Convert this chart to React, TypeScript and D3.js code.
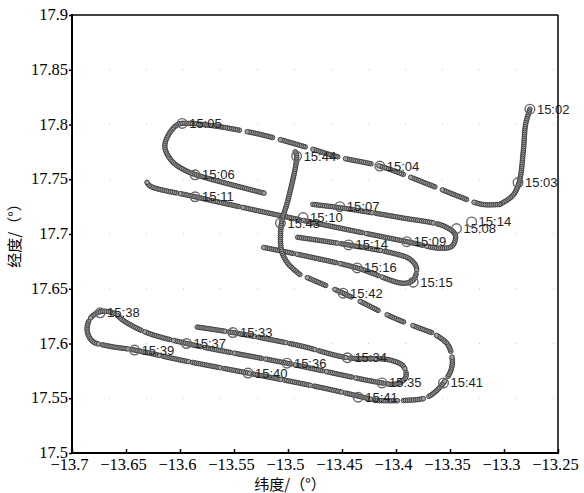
import React, { useEffect, useRef } from 'react'
import * as d3 from 'd3'

const xTicks = [-13.7, -13.65, -13.6, -13.55, -13.5, -13.45, -13.4, -13.35, -13.3, -13.25]
const yTicks = [17.5, 17.55, 17.6, 17.65, 17.7, 17.75, 17.8, 17.85, 17.9]

// flight track, pieces in time order [lon, lat]
const seg1 = [[-13.276, 17.814], [-13.280, 17.800], [-13.282, 17.777], [-13.286, 17.747], [-13.292, 17.735], [-13.304, 17.727]]
const seg2 = [[-13.304, 17.727], [-13.320, 17.727], [-13.341, 17.734], [-13.369, 17.745], [-13.415, 17.762], [-13.452, 17.770], [-13.489, 17.781], [-13.526, 17.791], [-13.563, 17.798]]
const seg3 = [[-13.563, 17.798], [-13.591, 17.801], [-13.602, 17.800], [-13.611, 17.790], [-13.614, 17.779], [-13.607, 17.766], [-13.595, 17.758], [-13.585, 17.754], [-13.521, 17.737]]
const seg4 = [[-13.477, 17.727], [-13.452, 17.724], [-13.396, 17.715], [-13.355, 17.707], [-13.345, 17.699], [-13.348, 17.689], [-13.359, 17.687], [-13.390, 17.693], [-13.489, 17.713], [-13.586, 17.734], [-13.628, 17.744], [-13.631, 17.748]]
const seg5 = [[-13.491, 17.697], [-13.444, 17.690], [-13.401, 17.682], [-13.387, 17.677], [-13.381, 17.669], [-13.384, 17.658], [-13.393, 17.655], [-13.436, 17.669], [-13.489, 17.681], [-13.524, 17.688]]
const seg6 = [[-13.584, 17.615], [-13.551, 17.610], [-13.489, 17.598], [-13.445, 17.587], [-13.406, 17.585], [-13.393, 17.579], [-13.391, 17.569], [-13.400, 17.563], [-13.413, 17.564], [-13.501, 17.582], [-13.594, 17.600], [-13.631, 17.610], [-13.651, 17.620], [-13.662, 17.628], [-13.674, 17.629], [-13.683, 17.623], [-13.686, 17.612], [-13.681, 17.602], [-13.668, 17.598], [-13.642, 17.594], [-13.600, 17.585], [-13.537, 17.573], [-13.461, 17.558], [-13.419, 17.548]]
const seg7 = [[-13.419, 17.548], [-13.392, 17.548], [-13.371, 17.551], [-13.356, 17.564], [-13.348, 17.580], [-13.352, 17.599], [-13.367, 17.610]]
const seg8 = [[-13.367, 17.610], [-13.401, 17.623], [-13.449, 17.646], [-13.489, 17.663]]
const seg9 = [[-13.489, 17.663], [-13.500, 17.673], [-13.506, 17.685], [-13.506, 17.710], [-13.500, 17.731], [-13.492, 17.772], [-13.494, 17.776]]
const segments = [seg1, seg2, seg3, seg4, seg5, seg6, seg7, seg8, seg9]

// time stamps along the track
const stampText = ['15:02', '15:03', '15:04', '15:05', '15:06', '15:07', '15:08', '15:14', '15:09', '15:43', '15:10', '15:11',
  '15:14', '15:15', '15:16', '15:33', '15:34', '15:35', '15:36', '15:37', '15:38', '15:39', '15:40', '15:41', '15:41', '15:42', '15:44']
const stampLon = [-13.276, -13.287, -13.415, -13.598, -13.586, -13.452, -13.344, -13.330, -13.390, -13.507, -13.486, -13.586,
  -13.444, -13.384, -13.436, -13.551, -13.445, -13.413, -13.501, -13.594, -13.674, -13.642, -13.537, -13.435, -13.356, -13.449, -13.492]
const stampLat = [17.814, 17.747, 17.762, 17.801, 17.754, 17.725, 17.705, 17.711, 17.693, 17.710, 17.715, 17.734,
  17.690, 17.656, 17.669, 17.610, 17.587, 17.564, 17.582, 17.600, 17.628, 17.594, 17.573, 17.551, 17.564, 17.646, 17.771]

// dash / gap in px for each piece (0 gap = solid)
const segDash = [[1, 0], [26, 8], [1, 0], [60, 3], [40, 4], [28, 3], [22, 5], [20, 9], [1, 0]]

export default function App() {
  const ref = useRef(null)

  useEffect(() => {
    const svg = d3.select(ref.current)
    svg.selectAll('*').remove()
    const x = d3.scaleLinear().domain([-13.7, -13.25]).range([72, 558])
    const y = d3.scaleLinear().domain([17.5, 17.9]).range([453, 15])
    const serif = '"Liberation Serif", "Times New Roman", serif'

    svg.append('rect').attr('width', 584).attr('height', 493).attr('fill', '#fff')

    // faint dotted grid
    svg.append('g').selectAll('line').data(yTicks.slice(1, -1)).join('line')
      .attr('x1', 72).attr('x2', 558).attr('y1', d => y(d)).attr('y2', d => y(d))
      .attr('stroke', '#c8c8c8').attr('stroke-width', 1).attr('stroke-dasharray', '1 36')

    // track as beads
    const line = d3.line().x(d => x(d[0])).y(d => y(d[1])).curve(d3.curveCatmullRom.alpha(0.5))
    const track = svg.append('g')
    segments.forEach((seg, i) => {
      const p = svg.append('path').attr('d', line(seg)).attr('fill', 'none')
      const node = p.node()
      const len = node.getTotalLength()
      const [dash, gap] = segDash[i]
      for (let s = 0; s <= len; s += 2) {
        if (gap > 0 && (s % (dash + gap)) > dash) continue
        const pt = node.getPointAtLength(s)
        track.append('circle').attr('cx', pt.x).attr('cy', pt.y).attr('r', 2.3)
          .attr('fill', '#a0a0a0').attr('stroke', '#383838').attr('stroke-width', 0.9)
      }
      p.remove()
    })

    // stamp markers and labels
    const st = svg.append('g')
    stampText.forEach((t, i) => {
      const cx = x(stampLon[i]), cy = y(stampLat[i])
      st.append('circle').attr('cx', cx).attr('cy', cy).attr('r', 4.8)
        .attr('fill', 'none').attr('stroke', '#666').attr('stroke-width', 1.4)
      st.append('text').attr('x', cx + 7).attr('y', cy + 4.5).text(t)
        .attr('font-family', '"Liberation Sans", Arial, sans-serif').attr('font-size', 13).attr('fill', '#222')
    })

    // axes
    const xAxis = d3.axisBottom(x).tickValues(xTicks).tickSize(-4).tickPadding(5).tickFormat(d3.format('.2~f'))
    const gx = svg.append('g').attr('transform', 'translate(0,453)').call(xAxis)
    gx.select('.domain').remove()
    gx.selectAll('line').attr('stroke', '#000').attr('stroke-width', 1.5)
    gx.selectAll('text').attr('font-family', serif).attr('font-size', 16.5).attr('fill', '#000').attr('dx', -3)

    const yAxis = d3.axisLeft(y).tickValues(yTicks).tickSize(3).tickPadding(1).tickFormat(d3.format('.2~f'))
    const gy = svg.append('g').attr('transform', 'translate(72,0)').call(yAxis)
    gy.select('.domain').remove()
    gy.selectAll('line').attr('stroke', '#000').attr('stroke-width', 1.5)
    gy.selectAll('text').attr('font-family', serif).attr('font-size', 16.5).attr('fill', '#000').attr('dy', '0.28em')

    // frame
    svg.append('line').attr('x1', 72).attr('x2', 558).attr('y1', 15).attr('y2', 15).attr('stroke', '#000').attr('stroke-width', 1.5)
    svg.append('line').attr('x1', 558).attr('x2', 558).attr('y1', 15).attr('y2', 453).attr('stroke', '#000').attr('stroke-width', 1.5)
    svg.append('line').attr('x1', 72).attr('x2', 72).attr('y1', 14).attr('y2', 454).attr('stroke', '#000').attr('stroke-width', 2)
    svg.append('line').attr('x1', 71).attr('x2', 559).attr('y1', 453).attr('y2', 453).attr('stroke', '#000').attr('stroke-width', 2)

    // titles
    svg.append('text').attr('x', 290).attr('y', 490).attr('text-anchor', 'middle')
      .attr('font-family', '"Noto Sans CJK SC", sans-serif').attr('font-size', 15).text('纬度/（°）')
    svg.append('text').attr('transform', 'translate(20,232) rotate(-90)').attr('text-anchor', 'middle')
      .attr('font-family', '"Noto Sans CJK SC", sans-serif').attr('font-size', 15).text('经度/（°）')
  }, [])

  return <svg ref={ref} width={584} height={493} style={{ position: 'absolute', left: 0, top: 0 }} />
}
